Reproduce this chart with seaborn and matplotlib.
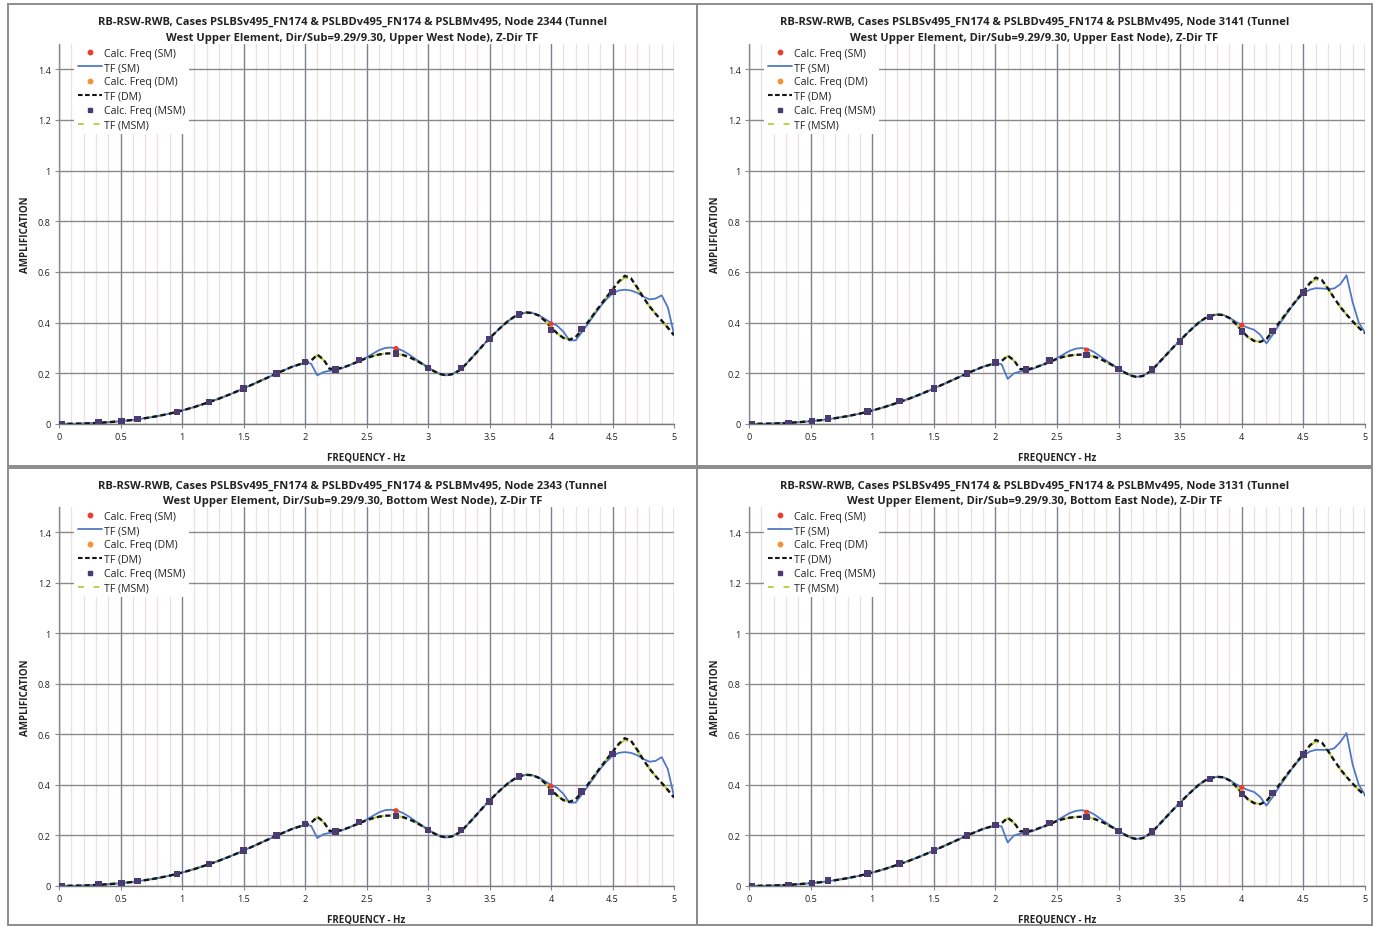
import matplotlib
matplotlib.use("Agg")
import matplotlib.pyplot as plt
from matplotlib.patches import Rectangle
from matplotlib.lines import Line2D
from matplotlib.ticker import MultipleLocator
import seaborn as sns
import pandas as pd

# ---------------- data ----------------
FREQ = [0.0, 0.1, 0.2, 0.3, 0.4, 0.5, 0.6, 0.7, 0.8, 0.9,
        1.0, 1.1, 1.2, 1.3, 1.4, 1.5, 1.6, 1.7, 1.8, 1.9,
        2.0, 2.05, 2.1, 2.15, 2.2, 2.25, 2.3, 2.35, 2.4, 2.45,
        2.5, 2.55, 2.6, 2.65, 2.7, 2.75, 2.8, 2.85, 2.9, 2.95,
        3.0, 3.05, 3.1, 3.15, 3.2, 3.25, 3.3, 3.35, 3.4, 3.45,
        3.5, 3.55, 3.6, 3.65, 3.7, 3.75, 3.8, 3.85, 3.9, 3.95,
        4.0, 4.05, 4.1, 4.15, 4.2, 4.25, 4.3, 4.35, 4.4, 4.45,
        4.5, 4.55, 4.6, 4.65, 4.7, 4.75, 4.8, 4.85, 4.9, 4.95, 5.0]

# West nodes (2344 upper / 2343 bottom)
TF_DM_WEST = [0.000, 0.001, 0.002, 0.004, 0.007, 0.011, 0.016, 0.023, 0.031, 0.041,
              0.053, 0.067, 0.083, 0.100, 0.119, 0.140, 0.162, 0.184, 0.206, 0.227,
              0.242, 0.250, 0.274, 0.255, 0.218, 0.217, 0.222, 0.230, 0.240, 0.250,
              0.260, 0.268, 0.274, 0.278, 0.279, 0.277, 0.272, 0.263, 0.252, 0.238,
              0.223, 0.208, 0.197, 0.192, 0.197, 0.210, 0.232, 0.258, 0.285, 0.312,
              0.338, 0.362, 0.385, 0.406, 0.423, 0.435, 0.440, 0.438, 0.428, 0.408,
              0.382, 0.358, 0.340, 0.333, 0.343, 0.370, 0.402, 0.435, 0.468, 0.500,
              0.530, 0.562, 0.585, 0.575, 0.540, 0.500, 0.465, 0.435, 0.408, 0.380, 0.350]
TF_MSM_WEST = [0.000, 0.001, 0.002, 0.004, 0.007, 0.011, 0.016, 0.023, 0.031, 0.041,
               0.053, 0.067, 0.083, 0.100, 0.119, 0.140, 0.162, 0.184, 0.206, 0.227,
               0.242, 0.250, 0.272, 0.253, 0.218, 0.217, 0.222, 0.230, 0.240, 0.250,
               0.260, 0.268, 0.274, 0.278, 0.279, 0.277, 0.272, 0.263, 0.252, 0.238,
               0.223, 0.208, 0.197, 0.192, 0.197, 0.210, 0.232, 0.258, 0.285, 0.312,
               0.338, 0.362, 0.385, 0.406, 0.423, 0.435, 0.441, 0.439, 0.428, 0.408,
               0.382, 0.358, 0.340, 0.334, 0.343, 0.370, 0.402, 0.435, 0.468, 0.500,
               0.530, 0.560, 0.578, 0.570, 0.538, 0.500, 0.465, 0.435, 0.408, 0.380, 0.350]
TF_SM_2344 = [0.000, 0.001, 0.002, 0.004, 0.007, 0.011, 0.016, 0.023, 0.031, 0.041,
              0.053, 0.067, 0.083, 0.100, 0.119, 0.140, 0.162, 0.184, 0.206, 0.227,
              0.242, 0.238, 0.192, 0.205, 0.210, 0.212, 0.220, 0.230, 0.240, 0.251,
              0.263, 0.277, 0.291, 0.300, 0.302, 0.298, 0.288, 0.273, 0.256, 0.240,
              0.224, 0.208, 0.197, 0.192, 0.198, 0.212, 0.232, 0.258, 0.285, 0.312,
              0.338, 0.362, 0.385, 0.406, 0.423, 0.435, 0.440, 0.438, 0.430, 0.415,
              0.400, 0.388, 0.365, 0.330, 0.330, 0.362, 0.395, 0.430, 0.463, 0.492,
              0.515, 0.527, 0.530, 0.527, 0.518, 0.503, 0.492, 0.495, 0.508, 0.460, 0.355]
TF_SM_2343 = [0.000, 0.001, 0.002, 0.004, 0.007, 0.011, 0.016, 0.023, 0.031, 0.041,
              0.053, 0.067, 0.083, 0.100, 0.119, 0.140, 0.162, 0.184, 0.206, 0.227,
              0.242, 0.238, 0.190, 0.205, 0.210, 0.212, 0.220, 0.230, 0.240, 0.251,
              0.263, 0.277, 0.291, 0.300, 0.302, 0.298, 0.288, 0.273, 0.256, 0.240,
              0.224, 0.208, 0.197, 0.192, 0.198, 0.212, 0.232, 0.258, 0.285, 0.312,
              0.338, 0.362, 0.385, 0.406, 0.423, 0.435, 0.440, 0.438, 0.430, 0.415,
              0.400, 0.388, 0.365, 0.330, 0.330, 0.362, 0.395, 0.430, 0.463, 0.492,
              0.515, 0.527, 0.530, 0.527, 0.518, 0.503, 0.492, 0.495, 0.510, 0.462, 0.355]

# East nodes (3141 upper / 3131 bottom)
TF_DM_EAST = [0.000, 0.001, 0.002, 0.004, 0.007, 0.011, 0.016, 0.023, 0.031, 0.041,
              0.053, 0.067, 0.083, 0.100, 0.119, 0.140, 0.162, 0.184, 0.206, 0.226,
              0.240, 0.248, 0.270, 0.252, 0.217, 0.215, 0.220, 0.228, 0.237, 0.247,
              0.257, 0.265, 0.270, 0.273, 0.274, 0.272, 0.266, 0.257, 0.245, 0.232,
              0.218, 0.203, 0.191, 0.185, 0.190, 0.205, 0.228, 0.254, 0.280, 0.306,
              0.330, 0.355, 0.378, 0.400, 0.417, 0.428, 0.432, 0.430, 0.418, 0.396,
              0.368, 0.343, 0.328, 0.324, 0.336, 0.365, 0.398, 0.430, 0.462, 0.493,
              0.522, 0.555, 0.578, 0.568, 0.535, 0.497, 0.462, 0.432, 0.405, 0.380, 0.358]
TF_MSM_EAST = [0.000, 0.001, 0.002, 0.004, 0.007, 0.011, 0.016, 0.023, 0.031, 0.041,
               0.053, 0.067, 0.083, 0.100, 0.119, 0.140, 0.162, 0.184, 0.206, 0.226,
               0.240, 0.248, 0.268, 0.250, 0.217, 0.215, 0.220, 0.228, 0.237, 0.247,
               0.257, 0.265, 0.270, 0.273, 0.274, 0.272, 0.266, 0.257, 0.245, 0.232,
               0.218, 0.203, 0.191, 0.185, 0.190, 0.205, 0.228, 0.254, 0.280, 0.306,
               0.330, 0.355, 0.378, 0.400, 0.417, 0.428, 0.433, 0.431, 0.418, 0.396,
               0.368, 0.343, 0.328, 0.325, 0.336, 0.365, 0.398, 0.430, 0.462, 0.493,
               0.522, 0.553, 0.572, 0.564, 0.533, 0.497, 0.462, 0.432, 0.405, 0.380, 0.358]
TF_SM_3141 = [0.000, 0.001, 0.002, 0.004, 0.007, 0.011, 0.016, 0.023, 0.031, 0.041,
              0.053, 0.067, 0.083, 0.100, 0.119, 0.140, 0.162, 0.184, 0.206, 0.226,
              0.240, 0.236, 0.178, 0.200, 0.207, 0.209, 0.217, 0.227, 0.237, 0.248,
              0.260, 0.274, 0.288, 0.297, 0.300, 0.296, 0.284, 0.267, 0.250, 0.234,
              0.219, 0.204, 0.192, 0.186, 0.191, 0.206, 0.228, 0.254, 0.280, 0.306,
              0.330, 0.355, 0.378, 0.400, 0.417, 0.428, 0.432, 0.430, 0.420, 0.404,
              0.390, 0.380, 0.372, 0.352, 0.318, 0.352, 0.390, 0.425, 0.460, 0.490,
              0.515, 0.530, 0.536, 0.535, 0.533, 0.535, 0.552, 0.587, 0.480, 0.400, 0.360]
TF_SM_3131 = [0.000, 0.001, 0.002, 0.004, 0.007, 0.011, 0.016, 0.023, 0.031, 0.041,
              0.053, 0.067, 0.083, 0.100, 0.119, 0.140, 0.162, 0.184, 0.206, 0.226,
              0.240, 0.236, 0.172, 0.200, 0.207, 0.209, 0.217, 0.227, 0.237, 0.248,
              0.260, 0.274, 0.288, 0.297, 0.300, 0.296, 0.284, 0.267, 0.250, 0.234,
              0.219, 0.204, 0.192, 0.186, 0.191, 0.206, 0.228, 0.254, 0.280, 0.306,
              0.330, 0.355, 0.378, 0.400, 0.417, 0.428, 0.432, 0.430, 0.420, 0.404,
              0.390, 0.380, 0.372, 0.352, 0.318, 0.352, 0.390, 0.425, 0.460, 0.490,
              0.515, 0.532, 0.539, 0.539, 0.538, 0.545, 0.570, 0.605, 0.480, 0.400, 0.360]

# Calculated frequencies (markers)
CALC_FREQ = [0.02, 0.32, 0.51, 0.64, 0.96, 1.22, 1.50, 1.77, 2.00, 2.25,
             2.44, 2.74, 3.00, 3.27, 3.50, 3.74, 4.00, 4.25, 4.50]
CALC_MSM_WEST = [0.000, 0.005, 0.012, 0.020, 0.048, 0.087, 0.140, 0.200, 0.245, 0.215,
                 0.253, 0.278, 0.222, 0.222, 0.335, 0.433, 0.372, 0.375, 0.522]
CALC_DM_WEST = [0.000, 0.005, 0.012, 0.020, 0.048, 0.087, 0.140, 0.200, 0.245, 0.215,
                0.253, 0.280, 0.222, 0.222, 0.335, 0.433, 0.378, 0.375, 0.525]
CALC_SM_WEST = [0.000, 0.005, 0.012, 0.020, 0.048, 0.087, 0.140, 0.200, 0.245, 0.215,
                0.253, 0.298, 0.222, 0.222, 0.335, 0.433, 0.395, 0.375, 0.522]
CALC_MSM_EAST = [0.000, 0.004, 0.012, 0.022, 0.050, 0.090, 0.140, 0.200, 0.242, 0.215,
                 0.250, 0.273, 0.218, 0.215, 0.325, 0.423, 0.365, 0.368, 0.520]
CALC_DM_EAST = [0.000, 0.004, 0.012, 0.022, 0.050, 0.090, 0.140, 0.200, 0.242, 0.215,
                0.250, 0.276, 0.218, 0.215, 0.325, 0.423, 0.372, 0.368, 0.522]
CALC_SM_EAST = [0.000, 0.004, 0.012, 0.022, 0.050, 0.090, 0.140, 0.200, 0.242, 0.215,
                0.250, 0.292, 0.218, 0.215, 0.325, 0.423, 0.390, 0.368, 0.520]

X_TICKS = [0, 0.5, 1, 1.5, 2, 2.5, 3, 3.5, 4, 4.5, 5]
X_TICK_LABELS = ["0", "0.5", "1", "1.5", "2", "2.5", "3", "3.5", "4", "4.5", "5"]
Y_TICKS = [0, 0.2, 0.4, 0.6, 0.8, 1.0, 1.2, 1.4]
Y_TICK_LABELS = ["0", "0.2", "0.4", "0.6", "0.8", "1", "1.2", "1.4"]

TITLE_L1 = "RB-RSW-RWB, Cases PSLBSv495_FN174 & PSLBDv495_FN174 & PSLBMv495, Node {} (Tunnel"
TITLE_L2 = "West Upper Element, Dir/Sub=9.29/9.30, {}), Z-Dir TF"
NODES = ["2344", "3141", "2343", "3131"]
NODE_DESC = ["Upper West Node", "Upper East Node", "Bottom West Node", "Bottom East Node"]
LEGEND_LABELS = ["Calc. Freq (SM)", "TF (SM)", "Calc. Freq (DM)", "TF (DM)",
                 "Calc. Freq (MSM)", "TF (MSM)"]

# ---------------- style ----------------
sns.set_theme(style="white")
plt.rcParams["font.family"] = ["Open Sans", "DejaVu Sans"]

W, H = 1375, 928
fig = plt.figure(figsize=(W / 100, H / 100), dpi=100)
fig.patch.set_facecolor("white")

C_SM = "#4f79c6"
C_DM = "#151515"
C_MSM = "#bcd04a"
C_SM_PT = "#e8402e"
C_DM_PT = "#f39236"
C_MSM_PT = "#4a3c70"

frames = [(8, 5, 697, 467), (697, 5, 1372, 467), (8, 469, 697, 926), (697, 469, 1372, 926)]
axes_px = [(59, 674, 45, 425), (749, 1365, 45, 425), (59, 674, 508, 887), (749, 1365, 508, 887)]

panel_data = [
    (TF_SM_2344, TF_DM_WEST, TF_MSM_WEST, CALC_SM_WEST, CALC_DM_WEST, CALC_MSM_WEST),
    (TF_SM_3141, TF_DM_EAST, TF_MSM_EAST, CALC_SM_EAST, CALC_DM_EAST, CALC_MSM_EAST),
    (TF_SM_2343, TF_DM_WEST, TF_MSM_WEST, CALC_SM_WEST, CALC_DM_WEST, CALC_MSM_WEST),
    (TF_SM_3131, TF_DM_EAST, TF_MSM_EAST, CALC_SM_EAST, CALC_DM_EAST, CALC_MSM_EAST),
]

for i in range(4):
    fx0, fy0, fx1, fy1 = frames[i]
    fig.patches.append(Rectangle((fx0 / W, 1 - fy1 / H), (fx1 - fx0) / W, (fy1 - fy0) / H,
                                 transform=fig.transFigure, fill=False,
                                 edgecolor="#8c8c8c", linewidth=1.4, zorder=0))
    l, r, t, b = axes_px[i]
    ax = fig.add_axes([l / W, 1 - b / H, (r - l) / W, (b - t) / H])
    ax.set_facecolor("white")

    tf_sm, tf_dm, tf_msm, c_sm, c_dm, c_msm = panel_data[i]
    df = pd.DataFrame({"f": FREQ, "sm": tf_sm, "dm": tf_dm, "msm": tf_msm})
    dc = pd.DataFrame({"f": CALC_FREQ, "sm": c_sm, "dm": c_dm, "msm": c_msm})

    sns.lineplot(data=df, x="f", y="msm", ax=ax, color=C_MSM, linewidth=1.6,
                 sort=False, estimator=None, zorder=3)
    ax.lines[-1].set_linestyle((0, (6, 4)))
    sns.lineplot(data=df, x="f", y="sm", ax=ax, color=C_SM, linewidth=1.3,
                 sort=False, estimator=None, zorder=4)
    sns.lineplot(data=df, x="f", y="dm", ax=ax, color=C_DM, linewidth=1.7,
                 sort=False, estimator=None, zorder=5)
    ax.lines[-1].set_linestyle((0, (2.2, 1.4)))
    sns.scatterplot(data=dc, x="f", y="sm", ax=ax, color=C_SM_PT, marker="o", s=14,
                    edgecolor="none", zorder=6)
    sns.scatterplot(data=dc, x="f", y="dm", ax=ax, color=C_DM_PT, marker="o", s=14,
                    edgecolor="none", zorder=6)
    sns.scatterplot(data=dc, x="f", y="msm", ax=ax, color=C_MSM_PT, marker="s", s=22,
                    edgecolor="none", zorder=7)

    ax.set_xlim(0, 5)
    ax.set_ylim(0, 1.5)
    ax.set_xticks(X_TICKS)
    ax.set_xticklabels(X_TICK_LABELS)
    ax.set_yticks(Y_TICKS)
    ax.set_yticklabels(Y_TICK_LABELS)
    ax.xaxis.set_minor_locator(MultipleLocator(0.1))
    ax.grid(which="major", axis="x", color="#7d7f95", linewidth=1.0)
    ax.grid(which="minor", axis="x", color="#ebdfe4", linewidth=0.9)
    ax.grid(which="major", axis="y", color="#8a8a8a", linewidth=1.0)
    ax.set_axisbelow(True)
    for s in ["top", "right"]:
        ax.spines[s].set_visible(False)
    ax.spines["left"].set_color("#8a8a8a")
    ax.spines["bottom"].set_color("#7a7a7a")
    ax.spines["left"].set_linewidth(1.0)
    ax.spines["bottom"].set_linewidth(1.0)
    ax.tick_params(axis="both", which="major", labelsize=6.6, length=3, width=0.8,
                   color="#8a8a8a", labelcolor="#222222", pad=3, direction="out",
                   bottom=True, left=True)
    ax.tick_params(axis="x", which="minor", length=0)
    ax.set_xlabel("FREQUENCY - Hz", fontsize=7.0, fontweight="bold", color="#222222", labelpad=7)
    ax.set_ylabel("AMPLIFICATION", fontsize=7.0, fontweight="bold", color="#222222", labelpad=5)

    handles = [
        Line2D([], [], linestyle="none", marker="o", markersize=3.2, color=C_SM_PT),
        Line2D([], [], color=C_SM, linewidth=1.3),
        Line2D([], [], linestyle="none", marker="o", markersize=3.2, color=C_DM_PT),
        Line2D([], [], color=C_DM, linewidth=1.5, linestyle=(0, (2.2, 1.2))),
        Line2D([], [], linestyle="none", marker="s", markersize=3.2, color=C_MSM_PT),
        Line2D([], [], color=C_MSM, linewidth=1.4, linestyle=(0, (3, 5))),
    ]
    leg = ax.legend(handles, LEGEND_LABELS, loc="upper left", bbox_to_anchor=(0.025, 1.0),
                    fontsize=7.6, frameon=True, facecolor="white", edgecolor="none",
                    framealpha=1.0, handlelength=2.3, handletextpad=0.15,
                    labelspacing=0.32, borderpad=0.35, borderaxespad=0.0)
    for txt in leg.get_texts():
        txt.set_color("#222222")

    cx = (fx0 + fx1) / 2 / W
    fig.text(cx, 1 - (fy0 + 17) / H, TITLE_L1.format(NODES[i]), ha="center", va="center",
             fontsize=8.0, fontweight="bold", color="#222222")
    fig.text(cx, 1 - (fy0 + 33) / H, TITLE_L2.format(NODE_DESC[i]), ha="center", va="center",
             fontsize=8.0, fontweight="bold", color="#222222")

fig.savefig("out.png", dpi=100, facecolor="white")
